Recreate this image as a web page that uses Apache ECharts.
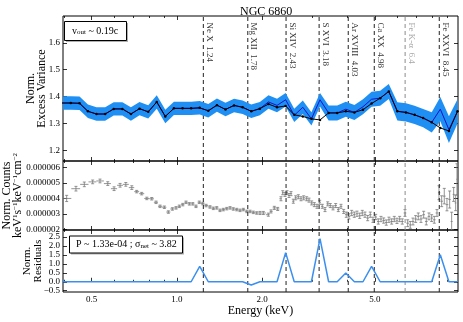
<!DOCTYPE html>
<html>
<head>
<meta charset="utf-8">
<script src="https://cdn.jsdelivr.net/npm/echarts@6/dist/echarts.min.js"></script>
<style>
  html, body { margin: 0; padding: 0; background: #fff; }
  #chart { width: 463px; height: 322px; }
</style>
</head>
<body>
<div id="chart"></div>
<script>
// variance spectrum bins (keV)
var binEnergy = [0.393, 0.422, 0.453, 0.485, 0.520, 0.558, 0.598, 0.642, 0.688, 0.738,
  0.792, 0.849, 0.910, 0.976, 1.047, 1.123, 1.204, 1.291, 1.385, 1.485,
  1.592, 1.707, 1.831, 1.964, 2.106, 2.258, 2.422, 2.597, 2.785, 2.987,
  3.203, 3.435, 3.684, 3.951, 4.237, 4.543, 4.872, 5.225, 5.603, 6.009,
  6.444, 6.910, 7.410, 7.947, 8.522, 9.139, 9.801];
// measured excess variance (blue line) and its error
var excessVar = [1.376, 1.376, 1.375, 1.345, 1.335, 1.335, 1.354, 1.354, 1.335, 1.355,
  1.343, 1.380, 1.326, 1.356, 1.356, 1.356, 1.358, 1.347, 1.368, 1.352,
  1.367, 1.360, 1.345, 1.355, 1.380, 1.367, 1.388, 1.330, 1.360, 1.317,
  1.388, 1.339, 1.339, 1.353, 1.341, 1.362, 1.390, 1.394, 1.419, 1.345,
  1.341, 1.332, 1.320, 1.304, 1.353, 1.277, 1.345];
var excessVarErr = [0.025, 0.025, 0.025, 0.025, 0.025, 0.025, 0.025, 0.025, 0.025, 0.025,
  0.025, 0.025, 0.025, 0.025, 0.025, 0.025, 0.025, 0.025, 0.025, 0.025,
  0.025, 0.025, 0.025, 0.025, 0.025, 0.025, 0.025, 0.025, 0.025, 0.025,
  0.025, 0.028, 0.028, 0.028, 0.028, 0.028, 0.028, 0.028, 0.028, 0.034,
  0.034, 0.034, 0.034, 0.038, 0.045, 0.050, 0.045];
// model without lines (black dotted line)
var modelVar = [1.376, 1.376, 1.375, 1.345, 1.335, 1.335, 1.354, 1.354, 1.335, 1.355,
  1.343, 1.380, 1.326, 1.356, 1.356, 1.356, 1.358, 1.347, 1.368, 1.352,
  1.367, 1.360, 1.345, 1.355, 1.372, 1.360, 1.365, 1.332, 1.326, 1.317,
  1.313, 1.339, 1.339, 1.345, 1.341, 1.351, 1.374, 1.394, 1.419, 1.345,
  1.341, 1.332, 1.320, 1.304, 1.283, 1.272, 1.345];
var residuals = [0, 0, 0, 0, 0, 0, 0, 0, 0, 0,
  0, 0, 0, 0, 0, 0, 0.86, 0, 0, 0,
  0, 0, -0.18, 0, 0, 0, 1.62, 0, 0, 0,
  2.4, 0, 0, 0.49, 0, 0, 0.86, 0, 0, 0,
  0, 0, 0, 0, 1.5, 0, 0];

// count spectrum (values and errors in 1e-6 units)
var countsEnergy = [0.408, 0.440, 0.471, 0.504, 0.535, 0.570, 0.600, 0.630, 0.660, 0.693,
  0.721, 0.751, 0.783, 0.815, 0.844, 0.872, 0.903, 0.933, 0.964, 0.993,
  1.020, 1.049, 1.077, 1.107, 1.138, 1.168, 1.200, 1.234, 1.268, 1.309,
  1.345, 1.383, 1.420, 1.459, 1.500, 1.541, 1.582, 1.627, 1.671, 1.717,
  1.765, 1.813, 1.862, 1.914, 1.966, 2.020, 2.104, 2.150, 2.209, 2.270,
  2.332, 2.365, 2.409, 2.449, 2.489, 2.530, 2.578, 2.628, 2.685, 2.744,
  2.805, 2.874, 2.929, 2.994, 3.058, 3.126, 3.195, 3.263, 3.336, 3.410,
  3.482, 3.560, 3.639, 3.717, 3.799, 3.884, 3.966, 4.054, 4.144, 4.233,
  4.327, 4.423, 4.517, 4.618, 4.720, 4.821, 4.928, 5.038, 5.145, 5.259,
  5.376, 5.491, 5.613, 5.737, 5.860, 5.990, 6.123, 6.254, 6.393, 6.535,
  6.674, 6.823, 6.974, 7.123, 7.281, 7.443, 7.602, 7.771, 7.943, 8.113,
  8.293, 8.429, 8.616, 8.800, 8.995, 9.195, 9.345, 9.499, 9.655, 9.757];
var counts = [3.99, 4.62, 4.90, 5.06, 5.12, 4.95, 4.62, 4.84, 4.90, 4.69,
  4.43, 4.30, 3.99, 3.97, 3.74, 3.48, 3.42, 3.11, 3.31, 3.38,
  3.48, 3.59, 3.74, 3.64, 3.64, 3.48, 3.74, 3.66, 3.53, 3.44,
  3.35, 3.38, 3.22, 3.27, 3.33, 3.38, 3.31, 3.27, 3.22, 3.27,
  3.15, 3.15, 3.09, 3.05, 3.05, 3.05, 2.94, 3.15, 3.38, 3.31,
  3.97, 4.36, 4.25, 4.36, 4.18, 4.30, 3.81, 4.03, 4.10, 3.97,
  4.03, 3.97, 3.88, 3.70, 3.59, 3.48, 3.74, 3.48, 3.27, 3.64,
  3.53, 3.38, 3.53, 3.27, 3.48, 3.15, 2.94, 2.83, 3.05, 2.94,
  3.00, 2.87, 3.05, 2.94, 2.72, 2.94, 2.61, 2.79, 2.50, 2.66,
  2.56, 2.43, 2.61, 2.50, 2.66, 2.54, 2.66, 2.50, 3.05, 2.39,
  2.28, 2.50, 2.66, 2.83, 2.66, 2.94, 2.50, 2.83, 2.72, 2.61,
  3.05, 4.36, 3.81, 4.14, 3.59, 3.92, 2.50, 4.25, 3.70, 5.23];
var countsErr = [0.20, 0.15, 0.15, 0.12, 0.12, 0.12, 0.12, 0.12, 0.12, 0.12,
  0.08, 0.08, 0.08, 0.08, 0.08, 0.08, 0.08, 0.08, 0.08, 0.08,
  0.08, 0.08, 0.08, 0.08, 0.08, 0.08, 0.08, 0.08, 0.08, 0.08,
  0.08, 0.08, 0.08, 0.08, 0.08, 0.08, 0.08, 0.08, 0.08, 0.08,
  0.08, 0.08, 0.08, 0.08, 0.10, 0.10, 0.10, 0.10, 0.10, 0.10,
  0.13, 0.13, 0.13, 0.13, 0.13, 0.13, 0.13, 0.13, 0.13, 0.13,
  0.13, 0.13, 0.13, 0.13, 0.13, 0.13, 0.13, 0.13, 0.13, 0.13,
  0.13, 0.13, 0.13, 0.13, 0.13, 0.13, 0.17, 0.17, 0.17, 0.17,
  0.17, 0.17, 0.17, 0.17, 0.17, 0.17, 0.17, 0.17, 0.17, 0.17,
  0.17, 0.17, 0.17, 0.17, 0.17, 0.17, 0.17, 0.17, 0.22, 0.22,
  0.22, 0.22, 0.22, 0.22, 0.22, 0.22, 0.22, 0.22, 0.22, 0.22,
  0.22, 0.45, 0.35, 0.50, 0.40, 0.55, 0.60, 0.45, 0.50, 1.00];

// emission lines
var lineNames = ['Ne X', 'Mg XII', 'Si XIV', 'S XVI', 'Ar XVIII', 'Ca XX', 'Fe K-\u03b1', 'Fe XXVI'];
var lineEnergy = [1.24, 1.78, 2.43, 3.18, 4.03, 4.98, 6.4, 8.45];

var majorTicks = [0.5, 1, 2, 5];
var minorTicks = [0.4, 0.6, 0.7, 0.8, 0.9, 3, 4, 6, 7, 8, 9];
var varTicks = [1.2, 1.3, 1.4, 1.5, 1.6];
var countTicks = [0.000002, 0.000003, 0.000004, 0.000005, 0.000006];
var residTicks = [-0.5, 0, 0.5, 1, 1.5, 2, 2.5];

var E_MIN = 0.396, E_MAX = 9.84;
var Y_RANGES = [[1.16, 1.70], [0.00000195, 0.00000641], [-0.57, 2.88]];
var FONT = 'Liberation Serif';
var BLUE = '#1f8ff4';

var chart = echarts.init(document.getElementById('chart'));

var grids = [
  { left: 63, top: 16, width: 395, height: 145 },
  { left: 63, top: 161, width: 395, height: 69 },
  { left: 63, top: 230, width: 395, height: 62 }
];
grids.forEach(function (g) {
  g.show = true; g.borderColor = '#000'; g.borderWidth = 1; g.outerBoundsMode = 'none';
});

function energyAxis(grid, pos, ticks, len, labels) {
  return {
    type: 'log', logBase: 10, gridIndex: grid, position: pos, min: E_MIN, max: E_MAX,
    axisLine: { show: false },
    splitLine: { show: false },
    minorTick: { show: false },
    axisTick: { show: true, inside: true, length: len, customValues: ticks,
      lineStyle: { color: '#000', width: 0.8 } },
    axisLabel: { show: labels, customValues: ticks, margin: 3, fontFamily: FONT, fontSize: 9, color: '#000',
      formatter: function (v) { return Number(v).toFixed(1); } }
  };
}

var xAxes = [];
for (var g = 0; g < 3; g++) {
  xAxes.push(energyAxis(g, 'bottom', majorTicks, 4, g === 2));
  xAxes.push(energyAxis(g, 'bottom', minorTicks, 2, false));
  xAxes.push(energyAxis(g, 'top', majorTicks, 4, false));
  xAxes.push(energyAxis(g, 'top', minorTicks, 2, false));
}
xAxes[8].name = 'Energy (keV)';
xAxes[8].nameLocation = 'middle';
xAxes[8].nameGap = 13;
xAxes[8].nameMoveOverlap = false;
xAxes[8].nameTextStyle = { fontFamily: FONT, fontSize: 12, color: '#000', verticalAlign: 'top' };

function valueAxis(grid, pos, ticks, fmt) {
  return {
    type: 'value', gridIndex: grid, position: pos, min: Y_RANGES[grid][0], max: Y_RANGES[grid][1],
    axisLine: { show: false },
    splitLine: { show: false },
    axisTick: { show: true, inside: true, length: 4, customValues: ticks,
      lineStyle: { color: '#000', width: 0.8 } },
    axisLabel: { show: pos === 'left', customValues: ticks, margin: 3, fontFamily: FONT, fontSize: 9,
      color: '#000', formatter: fmt }
  };
}
var fmt1 = function (v) { return (v < 0 ? '\u2212' : '') + Math.abs(v).toFixed(1); };
var fmt6 = function (v) { return v.toFixed(6); };

var yAxes = [
  valueAxis(0, 'left', varTicks, fmt1),
  valueAxis(0, 'right', varTicks, fmt1),
  valueAxis(1, 'left', countTicks, fmt6),
  valueAxis(1, 'right', countTicks, fmt6),
  valueAxis(2, 'left', residTicks, fmt1),
  valueAxis(2, 'right', residTicks, fmt1)
];
var nameStyle = { fontFamily: FONT, fontSize: 12, color: '#000', lineHeight: 11 };
yAxes[0].name = 'Norm.\nExcess Variance';
yAxes[0].nameGap = 16;
yAxes[2].name = 'Norm. Counts\nkeV{sup|1}s{sup|\u22121}keV{sup|\u22121}cm{sup|\u22122}';
yAxes[2].nameGap = 40;
yAxes[4].name = 'Norm.\nResiduals';
yAxes[4].nameGap = 19;
[0, 2, 4].forEach(function (i) {
  yAxes[i].nameLocation = 'middle';
  yAxes[i].nameRotate = 90;
  yAxes[i].nameMoveOverlap = false;
  yAxes[i].nameTextStyle = Object.assign({}, nameStyle,
    { rich: { sup: { fontFamily: FONT, fontSize: 7, color: '#000', verticalAlign: 'top' } } });
});
yAxes[4].nameTextStyle.fontSize = 11;

// dashed vertical lines at the line energies, one custom series per panel
function lineMarkSeries(grid, z) {
  var yr = Y_RANGES[grid];
  return {
    type: 'custom', xAxisIndex: grid * 4, yAxisIndex: grid * 2, z: z, silent: true, clip: true,
    data: lineEnergy.map(function (e) { return [e, yr[0]]; }),
    encode: { x: 0, y: 1 },
    renderItem: function (params, api) {
      var e = api.value(0);
      var a = api.coord([e, yr[0]]);
      var b = api.coord([e, yr[1]]);
      return { type: 'line', shape: { x1: a[0], y1: a[1], x2: b[0], y2: b[1] },
        style: { stroke: params.dataIndex === 6 ? '#8c8c8c' : '#222', lineWidth: 1, lineDash: [4, 3] } };
    }
  };
}

// x extent of each count bin from geometric mid points
var countsData = countsEnergy.map(function (e, i) {
  var prev = i > 0 ? countsEnergy[i - 1] : e * e / countsEnergy[i + 1];
  var next = i < countsEnergy.length - 1 ? countsEnergy[i + 1] : e * e / countsEnergy[i - 1];
  return [e, counts[i] * 1e-6, countsErr[i] * 1e-6, Math.sqrt(prev * e), Math.sqrt(e * next)];
});

var option = {
  animation: false,
  backgroundColor: '#fff',
  title: {
    text: 'NGC 6860', left: 235, top: 1,
    textStyle: { fontFamily: FONT, fontSize: 12, fontWeight: 'normal', color: '#000' }
  },
  grid: grids,
  xAxis: xAxes,
  yAxis: yAxes,
  series: [
    lineMarkSeries(0, 1),
    // error band of the excess variance
    { type: 'custom', xAxisIndex: 0, yAxisIndex: 0, z: 6, clip: true, silent: true,
      data: [[binEnergy[0], excessVar[0]]], encode: { x: 0, y: 1 },
      renderItem: function (params, api) {
        var pts = [];
        for (var i = 0; i < binEnergy.length; i++) {
          pts.push(api.coord([binEnergy[i], excessVar[i] + excessVarErr[i]]));
        }
        for (var j = binEnergy.length - 1; j >= 0; j--) {
          pts.push(api.coord([binEnergy[j], excessVar[j] - excessVarErr[j]]));
        }
        return { type: 'polygon', shape: { points: pts }, style: { fill: BLUE } };
      } },
    { type: 'line', xAxisIndex: 0, yAxisIndex: 0, z: 7, symbol: 'none',
      data: binEnergy.map(function (e, i) { return [e, excessVar[i]]; }),
      lineStyle: { color: '#1515c8', width: 1 } },
    { type: 'line', xAxisIndex: 0, yAxisIndex: 0, z: 8, symbol: 'circle', symbolSize: 2.5,
      data: binEnergy.map(function (e, i) { return [e, modelVar[i]]; }),
      itemStyle: { color: '#000' }, lineStyle: { color: '#000', width: 1 } },
    { type: 'scatter', xAxisIndex: 0, yAxisIndex: 0, z: 9, symbolSize: 1, silent: true,
      itemStyle: { color: 'rgba(0,0,0,0)' },
      data: lineEnergy.map(function (e, i) {
        return { value: [e, Y_RANGES[0][1]], label: { color: i === 6 ? '#8c8c8c' : '#000' } };
      }),
      label: {
        show: true, position: [2, 7], align: 'left', verticalAlign: 'bottom', rotate: -90,
        fontFamily: FONT, fontSize: 9,
        formatter: function (p) { return lineNames[p.dataIndex] + '  ' + lineEnergy[p.dataIndex]; }
      } },
    lineMarkSeries(1, 3),
    { type: 'custom', xAxisIndex: 4, yAxisIndex: 2, z: 2, clip: true, data: countsData,
      encode: { x: 0, y: 1 },
      renderItem: function (params, api) {
        var e = api.value(0), v = api.value(1), err = api.value(2);
        var c = api.coord([e, v]);
        var lo = api.coord([api.value(3), v]);
        var hi = api.coord([api.value(4), v]);
        var top = api.coord([e, v + err]);
        var bot = api.coord([e, v - err]);
        var st = { stroke: '#7a7a7a', lineWidth: 0.8 };
        return { type: 'group', children: [
          { type: 'line', shape: { x1: lo[0], y1: c[1], x2: hi[0], y2: c[1] }, style: st },
          { type: 'line', shape: { x1: c[0], y1: top[1], x2: c[0], y2: bot[1] }, style: st },
          { type: 'line', shape: { x1: c[0] - 1.5, y1: top[1], x2: c[0] + 1.5, y2: top[1] }, style: st },
          { type: 'line', shape: { x1: c[0] - 1.5, y1: bot[1], x2: c[0] + 1.5, y2: bot[1] }, style: st }
        ] };
      } },
    lineMarkSeries(2, 3),
    { type: 'line', xAxisIndex: 8, yAxisIndex: 4, z: 4, symbol: 'none',
      data: binEnergy.map(function (e, i) { return [e, residuals[i]]; }),
      lineStyle: { color: '#3b8fef', width: 1.5 } }
  ],
  graphic: [
    { type: 'rect', z: 100, shape: { x: 66, y: 23, width: 62, height: 19 }, style: { fill: '#b0b0b0' } },
    { type: 'rect', z: 101, shape: { x: 64.5, y: 21.5, width: 62, height: 19 },
      style: { fill: '#fff', stroke: '#000', lineWidth: 1 } },
    { type: 'text', z: 102, x: 72, y: 31,
      style: { text: 'v{sub|out} ~ 0.19c', fontFamily: FONT, fontSize: 10, fill: '#000', verticalAlign: 'middle',
        rich: { sub: { fontFamily: FONT, fontSize: 7, fill: '#000', verticalAlign: 'bottom' } } } },
    { type: 'rect', z: 100, shape: { x: 71, y: 237.5, width: 113, height: 17 }, style: { fill: '#b0b0b0' } },
    { type: 'rect', z: 101, shape: { x: 69.5, y: 236, width: 113, height: 17 },
      style: { fill: '#fff', stroke: '#000', lineWidth: 1 } },
    { type: 'text', z: 102, x: 76, y: 244.5,
      style: { text: 'P ~ 1.33e-04 ; \u03c3{sub|net} ~ 3.82', fontFamily: FONT, fontSize: 10, fill: '#000',
        verticalAlign: 'middle',
        rich: { sub: { fontFamily: FONT, fontSize: 7, fill: '#000', verticalAlign: 'bottom' } } } }
  ]
};

chart.setOption(option);
</script>
</body>
</html>
